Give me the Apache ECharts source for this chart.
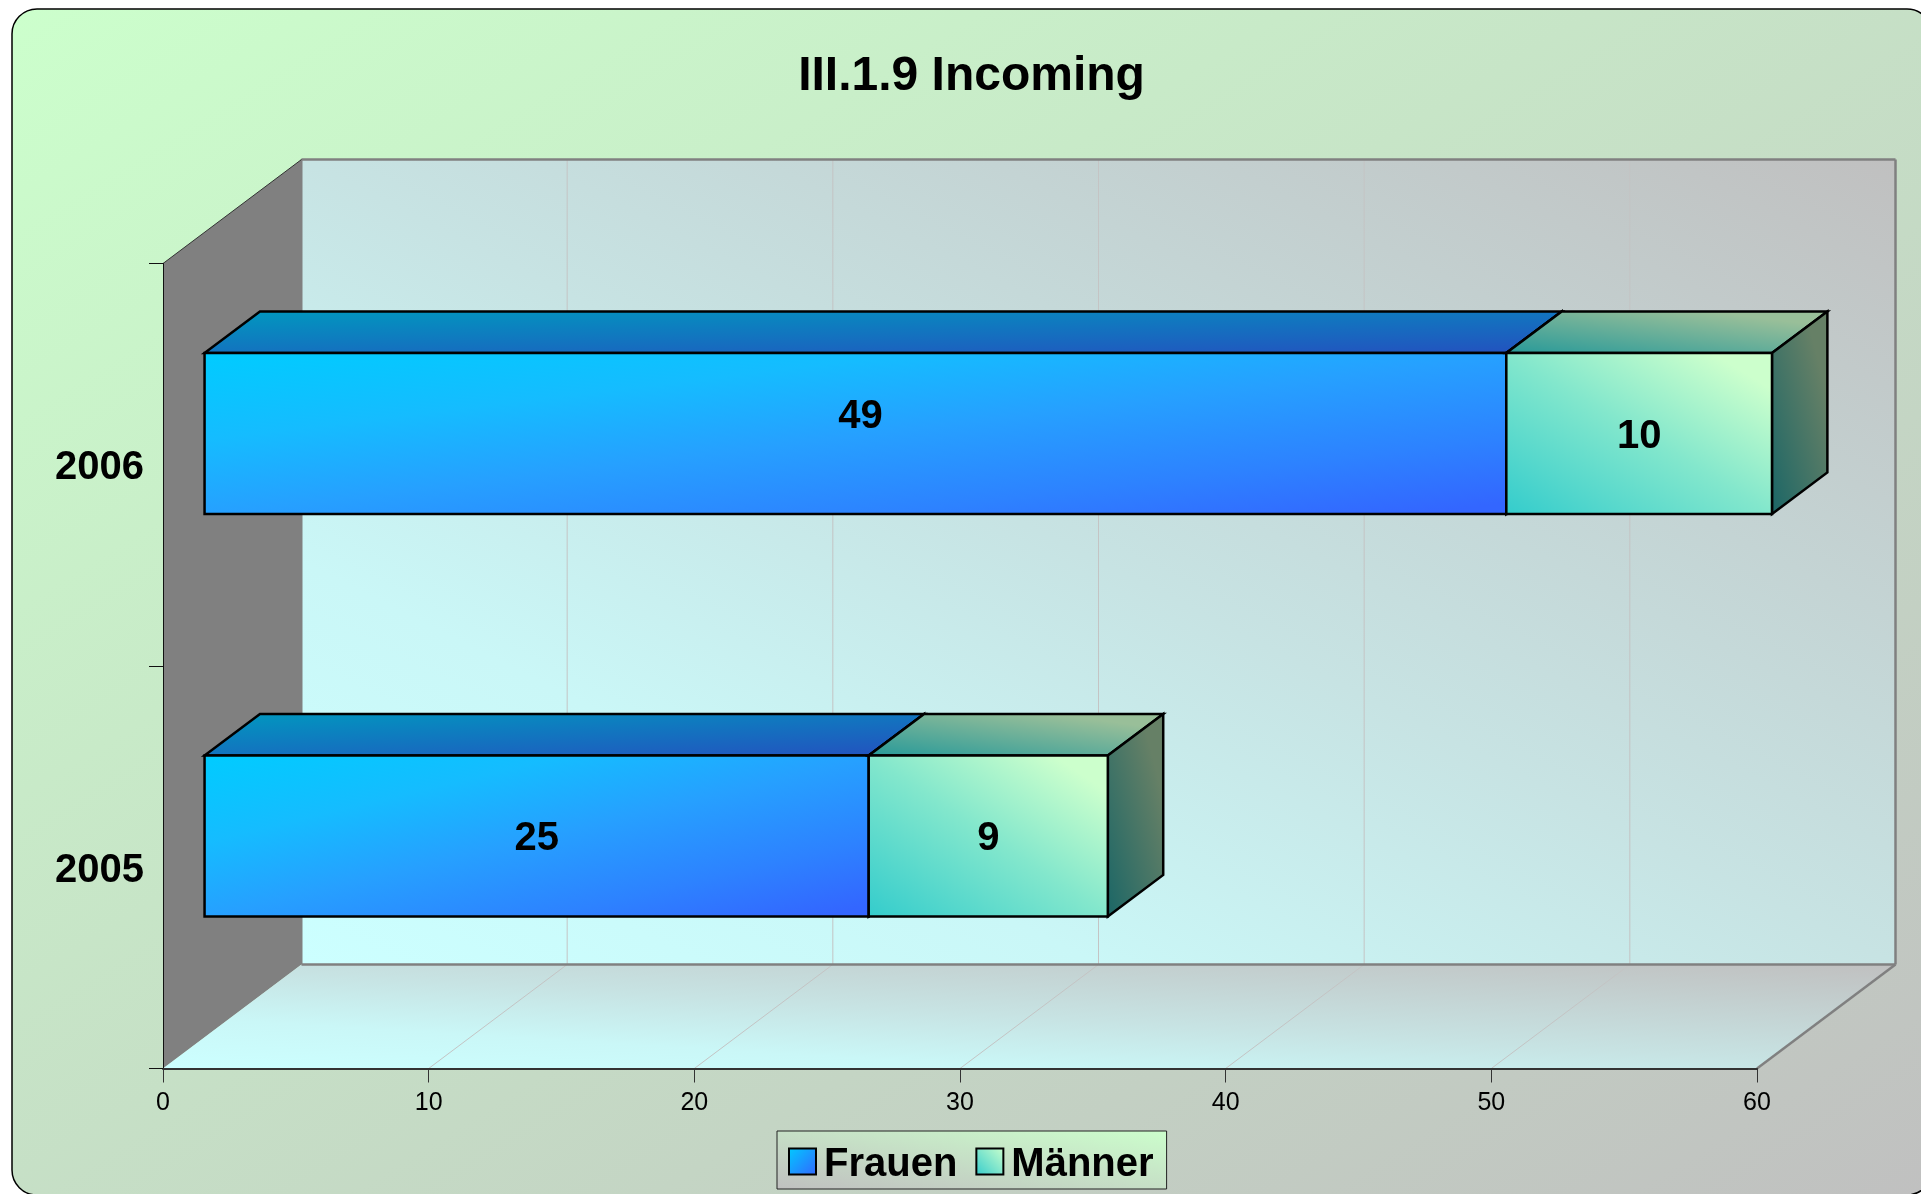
<!DOCTYPE html>
<html>
<head>
<meta charset="utf-8">
<title>III.1.9 Incoming</title>
<script src="https://cdn.jsdelivr.net/npm/echarts@6/dist/echarts.min.js"></script>
<style>
  html, body { margin: 0; padding: 0; background: #fff; overflow: hidden; }
  #chart { width: 1921px; height: 1194px; }
</style>
</head>
<body>
<div id="chart"></div>
<script>
// Incoming students per year, split by gender
const titleText = 'III.1.9 Incoming';
const years = ['2005', '2006'];
const frauen = [25, 49];
const maenner = [9, 10];
const valueTicks = [0, 10, 20, 30, 40, 50, 60];

const FONT = '"Liberation Sans", Arial, sans-serif';

// Oblique projection of the 3D box: full depth of the chart floor, and the
// share of that depth occupied by the bars
const DEPTH_X = 138.5;
const DEPTH_Y = -104;
const BAR_NEAR = 0.3;
const BAR_FAR = 0.7;
const BAR_HEIGHT_SHARE = 0.4;
const LABEL_DY = 3;

// Gradient ramps as [offset, mix] pairs
const RAMP_LINEAR = [[0, 0], [1, 1]];
const RAMP_WALL = [[0, 0], [0.25, 0.13], [0.5, 0.45], [1, 1]];
const RAMP_FRONT_GREEN = [[0, 0], [0.5, 0.52], [0.88, 1], [1, 1]];
const RAMP_SHADED_GREEN = [[0, 0], [0.77, 1], [1, 1]];

// The blue front face keeps its own colour stops
const STOPS_FRONT_BLUE = [
  { offset: 0, color: '#00CCFF' },
  { offset: 0.27, color: '#15BCFF' },
  { offset: 0.5, color: '#26A0FF' },
  { offset: 0.75, color: '#2D82FF' },
  { offset: 0.95, color: '#3366FF' },
  { offset: 1, color: '#3366FF' }
];

function hexMix(c0, c1, t) {
  const a = parseInt(c0.slice(1), 16), b = parseInt(c1.slice(1), 16);
  const ch = function (s) {
    const v0 = (a >> s) & 255, v1 = (b >> s) & 255;
    return Math.round(v0 + (v1 - v0) * t);
  };
  return 'rgb(' + ch(16) + ',' + ch(8) + ',' + ch(0) + ')';
}

// Diagonal gradient whose colour lines run parallel to the opposite corners
// of a w x h box. 'down' goes from top-left, 'up' from bottom-left.
function diagStops(w, h, dir, colorStops) {
  const a = 2 / (1 / (w * w) + 1 / (h * h));
  const fx = a / (w * w);
  const fy = a / (h * h);
  return dir === 'down'
    ? { type: 'linear', x: 0, y: 0, x2: fx, y2: fy, colorStops }
    : { type: 'linear', x: 0, y: 1, x2: fx, y2: 1 - fy, colorStops };
}

function diag(w, h, dir, c0, c1, ramp) {
  return diagStops(w, h, dir, (ramp || RAMP_LINEAR).map(function (r) {
    return { offset: r[0], color: hexMix(c0, c1, r[1]) };
  }));
}

const palette = {
  Frauen: {
    dir: 'down',
    front: function (w, h) { return diagStops(w, h, 'down', STOPS_FRONT_BLUE); },
    top: ['#0099BF', '#264CBF'],
    side: ['#006680', '#1A3380'],
    shadeRamp: RAMP_LINEAR
  },
  'Männer': {
    dir: 'up',
    front: function (w, h) { return diag(w, h, 'up', '#33CCCC', '#CCFFCC', RAMP_FRONT_GREEN); },
    top: ['#269999', '#99BF99'],
    side: ['#1A6666', '#668066'],
    shadeRamp: RAMP_SHADED_GREEN
  }
};

function poly(points, fill, stroke, lineWidth) {
  return {
    type: 'polygon',
    shape: { points },
    style: { fill, stroke: stroke || null, lineWidth: lineWidth || 0, lineJoin: 'miter' }
  };
}

function line(x1, y1, x2, y2, stroke, lineWidth) {
  return {
    type: 'line',
    shape: { x1, y1, x2, y2 },
    style: { stroke, lineWidth }
  };
}

// Side wall, back wall, floor and their grid lines, all hung off the grid rectangle
function renderWalls(params, api) {
  const g = params.coordSys;
  const x0 = g.x, x1 = g.x + g.width, y0 = g.y, y1 = g.y + g.height;
  const bx0 = x0 + DEPTH_X, bx1 = x1 + DEPTH_X;
  const by0 = y0 + DEPTH_Y, by1 = y1 + DEPTH_Y;

  const children = [
    poly([[x0, y0], [bx0, by0], [bx0, by1], [x0, y1]], '#808080'),
    poly([[bx0, by0], [bx1, by0], [bx1, by1], [bx0, by1]],
      diag(bx1 - bx0, by1 - by0, 'up', '#CCFFFF', '#C0C0C0', RAMP_WALL)),
    poly([[x0, y1], [bx0, by1], [bx1, by1], [x1, y1]],
      diag(bx1 - x0, y1 - by1, 'up', '#CCFFFF', '#C0C0C0', RAMP_WALL))
  ];

  valueTicks.slice(1, -1).forEach(function (v) {
    const x = api.coord([v, 0])[0];
    children.push(line(x + DEPTH_X, by0, x + DEPTH_X, by1, '#C4C4C4', 1));
    children.push(line(x, y1, x + DEPTH_X, by1, '#C4C4C4', 1));
  });

  children.push(line(bx0, by0, bx1, by0, '#808080', 2.5));
  children.push(line(bx1, by0, bx1, by1, '#808080', 2.5));
  children.push(line(bx0, by1, bx1, by1, '#808080', 2.5));
  children.push(line(bx0, by0, bx0, by1, '#808080', 2));
  children.push(line(x1, y1, bx1, by1, '#808080', 2.5));
  children.push(line(x0, y0, bx0, by0, '#333333', 1));
  return { type: 'group', children };
}

// The upper Frauen label sits off-centre on its bar
const frauenLabelShift = [[0, 0], [5, -20]];
const maennerLabelShift = [[0, 0], [0, 0]];

// One stacked block drawn as top, side and front faces plus its value label
function renderBlock(params, api) {
  const name = params.seriesName;
  const colors = palette[name];
  const start = api.value(0);
  const end = api.value(1);
  const cat = api.value(2);
  const value = api.value(3);
  const band = api.size([0, 1])[1];

  const [ax, cy] = api.coord([start, cat]);
  const bx = api.coord([end, cat])[0];
  const h = band * BAR_HEIGHT_SHARE;
  const nx = DEPTH_X * BAR_NEAR, ny = DEPTH_Y * BAR_NEAR;
  const fx = DEPTH_X * BAR_FAR, fy = DEPTH_Y * BAR_FAR;
  const rx = fx - nx, ry = fy - ny;

  const left = ax + nx, right = bx + nx;
  const top = cy - h / 2 + ny, bottom = cy + h / 2 + ny;

  const shift = (name === 'Frauen' ? frauenLabelShift : maennerLabelShift)[params.dataIndex];

  return {
    type: 'group',
    children: [
      poly([[left, top], [left + rx, top + ry], [right + rx, top + ry], [right, top]],
        diag(right + rx - left, -ry, colors.dir, colors.top[0], colors.top[1], colors.shadeRamp), '#000', 2.5),
      poly([[right, top], [right + rx, top + ry], [right + rx, bottom + ry], [right, bottom]],
        diag(rx, bottom - top - ry, colors.dir, colors.side[0], colors.side[1], colors.shadeRamp), '#000', 2.5),
      poly([[left, top], [right, top], [right, bottom], [left, bottom]],
        colors.front(right - left, bottom - top), '#000', 2.5),
      {
        type: 'text',
        style: {
          text: String(value),
          x: (left + right) / 2 + shift[0],
          y: (top + bottom) / 2 + LABEL_DY + shift[1],
          align: 'center',
          verticalAlign: 'middle',
          font: 'bold 40px ' + FONT,
          fill: '#000'
        }
      }
    ]
  };
}

const frauenData = years.map(function (y, i) {
  return [0, frauen[i], i, frauen[i]];
});
const maennerData = years.map(function (y, i) {
  return [frauen[i], frauen[i] + maenner[i], i, maenner[i]];
});

const chart = echarts.init(document.getElementById('chart'), null, { renderer: 'canvas' });

chart.setOption({
  animation: false,
  backgroundColor: '#FFFFFF',
  textStyle: { fontFamily: FONT },
  title: {
    text: titleText,
    left: 966.5,
    top: 48,
    textAlign: 'center',
    textStyle: { fontFamily: FONT, fontSize: 48, fontWeight: 'bold', color: '#000' }
  },
  graphic: [{
    type: 'rect',
    z: -10,
    silent: true,
    shape: { x: 12, y: 9, width: 1920, height: 1186, r: 25 },
    style: {
      fill: diag(1920, 1186, 'down', '#CCFFCC', '#C0C0C0'),
      stroke: '#000',
      lineWidth: 1.5
    }
  }],
  grid: { left: 163, top: 263.5, width: 1594, height: 805, containLabel: false },
  xAxis: {
    type: 'value',
    min: 0,
    max: 60,
    interval: 10,
    z: 3,
    splitLine: { show: false },
    axisLine: { show: true, lineStyle: { color: '#333', width: 2 } },
    axisTick: { show: true, length: 14, lineStyle: { color: '#333', width: 1 } },
    axisLabel: {
      color: '#000',
      fontSize: 25,
      fontFamily: FONT,
      margin: 22,
      showMinLabel: true,
      showMaxLabel: true
    }
  },
  yAxis: {
    type: 'category',
    data: years,
    z: 3,
    axisLine: { show: true, lineStyle: { color: '#111', width: 1 } },
    axisTick: { show: true, length: 14, alignWithLabel: false, lineStyle: { color: '#111', width: 1 } },
    axisLabel: {
      color: '#000',
      fontSize: 40,
      fontWeight: 'bold',
      fontFamily: FONT,
      margin: 19,
      formatter: '{y|{value}}',
      rich: {
        y: {
          color: '#000',
          fontSize: 40,
          fontWeight: 'bold',
          fontFamily: FONT,
          padding: [7, 0, 0, 0]
        }
      }
    }
  },
  legend: {
    left: 777,
    top: 1131,
    orient: 'horizontal',
    selectedMode: false,
    data: ['Frauen', 'Männer'],
    icon: 'rect',
    itemWidth: 27,
    itemHeight: 26,
    itemGap: 18,
    padding: [14, 13, 4, 11],
    backgroundColor: diag(390, 58, 'up', '#C0C0C0', '#CCFFCC'),
    borderColor: '#222',
    borderWidth: 1,
    itemStyle: { borderColor: '#000', borderWidth: 2 },
    formatter: '{t|{name}}',
    textStyle: {
      color: '#000',
      fontSize: 40,
      fontWeight: 'bold',
      fontFamily: FONT,
      rich: {
        t: {
          color: '#000',
          fontSize: 40,
          fontWeight: 'bold',
          fontFamily: FONT,
          padding: [7, 0, 0, 3]
        }
      }
    }
  },
  series: [
    {
      type: 'custom',
      name: 'walls',
      z: 1,
      silent: true,
      renderItem: renderWalls,
      data: [[0, 0]],
      encode: { x: 0, y: 1 }
    },
    {
      type: 'custom',
      name: 'Frauen',
      z: 4,
      renderItem: renderBlock,
      data: frauenData,
      encode: { x: [0, 1], y: 2 },
      itemStyle: { color: { type: 'linear', x: 0, y: 0, x2: 1, y2: 1,
        colorStops: [{ offset: 0, color: '#00CCFF' }, { offset: 1, color: '#3366FF' }] } }
    },
    {
      type: 'custom',
      name: 'Männer',
      z: 4,
      renderItem: renderBlock,
      data: maennerData,
      encode: { x: [0, 1], y: 2 },
      itemStyle: { color: { type: 'linear', x: 0, y: 1, x2: 1, y2: 0,
        colorStops: [{ offset: 0, color: '#33CCCC' }, { offset: 1, color: '#CCFFCC' }] } }
    }
  ]
});
</script>
</body>
</html>
